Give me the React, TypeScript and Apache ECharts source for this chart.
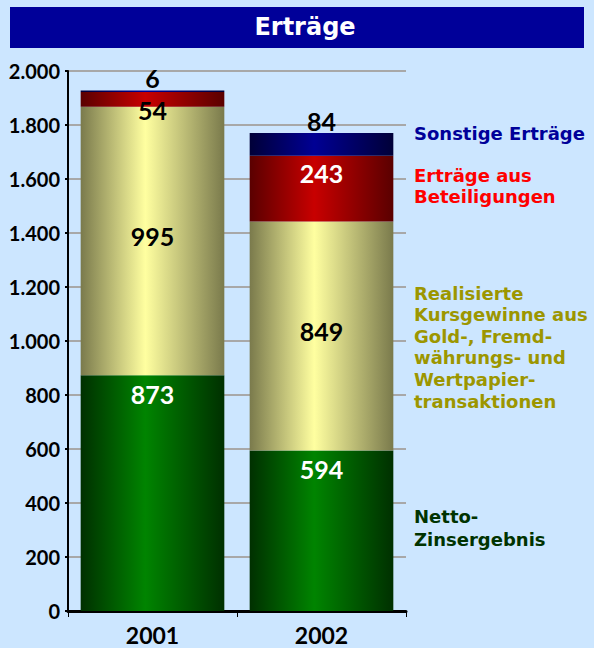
import React, { useEffect, useRef } from "react";
import * as echarts from "echarts";

const categories = ["2001", "2002"];
const nettoZins = [873, 594];
const kursgewinne = [995, 849];
const beteiligungen = [54, 243];
const sonstige = [6, 84];
const yTicks = [0, 200, 400, 600, 800, 1000, 1200, 1400, 1600, 1800, 2000];

const FONT = "Lato";
const WIDE = "'DejaVu Sans'";

function grad(edge: string, center: string) {
  return new echarts.graphic.LinearGradient(0, 0, 1, 0, [
    { offset: 0, color: edge },
    { offset: 0.45, color: center },
    { offset: 1, color: edge },
  ]);
}

function fmt(v: number) {
  return v.toLocaleString("de-DE");
}

export default function App() {
  const ref = useRef<HTMLDivElement>(null);
  useEffect(() => {
    document.body.style.margin = "0";
    const chart = echarts.init(ref.current!, undefined, { renderer: "svg" });
    const labelBase = {
      show: true,
      fontFamily: FONT,
      fontWeight: "bold" as const,
      fontSize: 25,
      formatter: (p: any) => String(p.value),
    };
    chart.setOption({
      animation: false,
      backgroundColor: "#cce6ff",
      grid: { left: 68, top: 71, width: 338, height: 540, containLabel: false },
      xAxis: {
        type: "category",
        data: categories,
        axisLine: { lineStyle: { color: "#000", width: 3 } },
        axisTick: { show: true, length: 6, lineStyle: { color: "#000", width: 1 } },
        axisLabel: {
          color: "#000",
          fontFamily: FONT,
          fontWeight: "bold",
          fontSize: 23,
          margin: 12,
        },
      },
      yAxis: {
        type: "value",
        min: yTicks[0],
        max: yTicks[yTicks.length - 1],
        interval: yTicks[1] - yTicks[0],
        axisLine: { show: true, lineStyle: { color: "#000", width: 2 } },
        axisTick: { show: true, length: 3, lineStyle: { color: "#000", width: 2 } },
        splitLine: { lineStyle: { color: "#a8a8a8", width: 2 } },
        axisLabel: {
          color: "#000",
          fontFamily: FONT,
          fontWeight: "bold",
          fontSize: 20,
          margin: 8,
          formatter: (v: number) => fmt(v),
        },
      },
      series: [
        {
          name: "Netto-Zinsergebnis",
          type: "bar",
          stack: "a",
          barCategoryGap: "15%",
          data: nettoZins,
          itemStyle: { color: grad("#003000", "#008400") },
          label: { ...labelBase, position: "insideTop", distance: 6, color: "#fff" },
        },
        {
          name: "Kursgewinne",
          type: "bar",
          stack: "a",
          data: kursgewinne,
          itemStyle: { color: grad("#7a7a4c", "#ffffa0") },
          label: { ...labelBase, position: "inside", offset: [0, -5], color: "#000" },
        },
        {
          name: "Beteiligungen",
          type: "bar",
          stack: "a",
          data: beteiligungen.map((v, i) => ({
            value: v,
            label: { color: i === 0 ? "#000" : "#fff" },
          })),
          itemStyle: { color: grad("#5a0000", "#c80000") },
          label: { ...labelBase, position: "insideTop", distance: 5 },
        },
        {
          name: "Sonstige",
          type: "bar",
          stack: "a",
          data: sonstige,
          itemStyle: { color: grad("#000038", "#000094") },
          label: { ...labelBase, position: "top", distance: 0, color: "#000" },
        },
      ],
      graphic: [
        { type: "rect", shape: { x: 10, y: 7, width: 574, height: 41 }, style: { fill: "#000099" } },
        {
          type: "text",
          x: 305,
          y: 27,
          style: {
            text: "Erträge",
            fill: "#fff",
            font: `bold 24px ${WIDE}`,
            align: "center",
            verticalAlign: "middle",
          },
        },
        {
          type: "text",
          x: 414,
          y: 133,
          style: {
            text: "Sonstige Erträge",
            fill: "#000099",
            font: `bold 18px ${WIDE}`,
            verticalAlign: "middle",
          },
        },
        {
          type: "text",
          x: 414,
          y: 186,
          style: {
            text: "Erträge aus\nBeteiligungen",
            fill: "#ff0000",
            font: `bold 18px ${WIDE}`,
            lineHeight: 21.6,
            verticalAlign: "middle",
          },
        },
        {
          type: "text",
          x: 414,
          y: 347,
          style: {
            text: "Realisierte\nKursgewinne aus\nGold-, Fremd-\nwährungs- und\nWertpapier-\ntransaktionen",
            fill: "#9c9600",
            font: `bold 18px ${WIDE}`,
            lineHeight: 21.6,
            verticalAlign: "middle",
            textShadowColor: "#3a3600",
            textShadowOffsetX: 1.5,
            textShadowOffsetY: 1.5,
            textShadowBlur: 0,
          },
        },
        {
          type: "text",
          x: 414,
          y: 528,
          style: {
            text: "Netto-\nZinsergebnis",
            fill: "#003300",
            font: `bold 18px ${WIDE}`,
            lineHeight: 22.5,
            verticalAlign: "middle",
          },
        },
      ],
    });
    return () => chart.dispose();
  }, []);
  return <div ref={ref} style={{ width: 594, height: 648 }} />;
}
